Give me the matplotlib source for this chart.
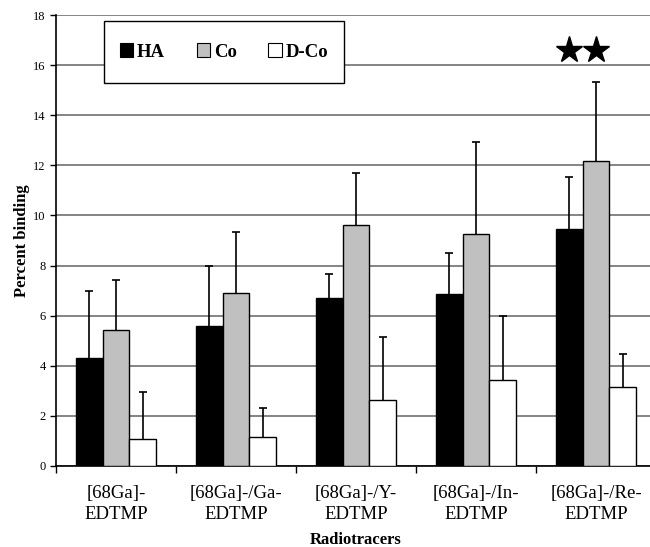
import matplotlib.pyplot as plt
import numpy as np
from matplotlib.patches import Patch, Rectangle

plt.rcParams['font.family'] = ['Liberation Serif', 'DejaVu Serif']

categories = ['[68Ga]-\nEDTMP', '[68Ga]-/Ga-\nEDTMP', '[68Ga]-/Y-\nEDTMP',
              '[68Ga]-/In-\nEDTMP', '[68Ga]-/Re-\nEDTMP']
series = ['HA', 'Co', 'D-Co']
ha = [4.30, 5.60, 6.69, 6.86, 9.44]
co = [5.43, 6.89, 9.62, 9.26, 12.18]
dco = [1.07, 1.17, 2.63, 3.43, 3.16]
ha_err = [2.70, 2.40, 0.96, 1.65, 2.09]
co_err = [1.99, 2.46, 2.08, 3.67, 3.16]
dco_err = [1.88, 1.16, 2.51, 2.56, 1.32]
colors = ['black', '#c0c0c0', 'white']
star_group = 4
star_y = 16.6

fig = plt.figure(figsize=(6.5, 5.47), dpi=100)
ax = fig.add_axes([56 / 650, 81 / 547, 600 / 650, 451 / 547])

x = np.arange(len(categories))
w = 0.222
values = [ha, co, dco]
errors = [ha_err, co_err, dco_err]
for i, (vals, errs) in enumerate(zip(values, errors)):
    pos = x + (i - 1) * w
    ax.bar(pos, vals, width=w, color=colors[i], edgecolor='black', linewidth=1.0, zorder=3)
    _, caps, _ = ax.errorbar(pos, vals, yerr=[np.zeros(len(vals)), errs], fmt='none',
                             ecolor='black', elinewidth=1.2, capsize=3, capthick=1.2, zorder=4)
    # keep only the upper caps
    for cap in caps:
        if np.allclose(cap.get_ydata(), vals):
            cap.set_visible(False)

# significance stars over HA and Co of last group
ax.plot([star_group - w, star_group], [star_y, star_y], linestyle='none',
        marker='*', markersize=20, color='black', zorder=5)

ax.set_xlim(-0.5, 4.5)
ax.set_ylim(0, 18)
ax.set_yticks(np.arange(0, 19, 2))
ax.yaxis.grid(True, color='#707070', linewidth=1.2, zorder=0)
ax.set_axisbelow(True)

ax.set_xticks(x)
ax.set_xticklabels(categories, fontsize=13.5, linespacing=1.3)
ax.set_xticks(np.arange(-0.5, 5, 1), minor=True)
ax.tick_params(axis='x', which='major', length=0, pad=14)
ax.tick_params(axis='x', which='minor', length=5, width=1)
ax.tick_params(axis='y', labelsize=9, length=4, width=1)

for s in ['top', 'right']:
    ax.spines[s].set_visible(False)
ax.spines['left'].set_linewidth(1.2)
ax.spines['bottom'].set_linewidth(1.2)

ax.set_ylabel('Percent binding', fontsize=12, fontweight='bold', labelpad=2)
ax.set_xlabel('Radiotracers', fontsize=12, fontweight='bold', labelpad=6)

# legend box drawn separately so its size matches
box = Rectangle((0.08, 0.849), 0.40, 0.138, transform=ax.transAxes,
                facecolor='white', edgecolor='black', linewidth=1.0, zorder=6)
ax.add_patch(box)
handles = [Patch(facecolor=c, edgecolor='black', linewidth=0.8) for c in colors]
leg = ax.legend(handles, series, ncol=3, loc='center',
                bbox_to_anchor=(0.08, 0.849, 0.40, 0.138), frameon=False,
                handlelength=0.7, handleheight=0.7, handletextpad=0.2,
                columnspacing=1.7, borderaxespad=0,
                prop={'weight': 'bold', 'size': 13.5})
leg.set_zorder(7)

fig.savefig('out.png', dpi=100)
